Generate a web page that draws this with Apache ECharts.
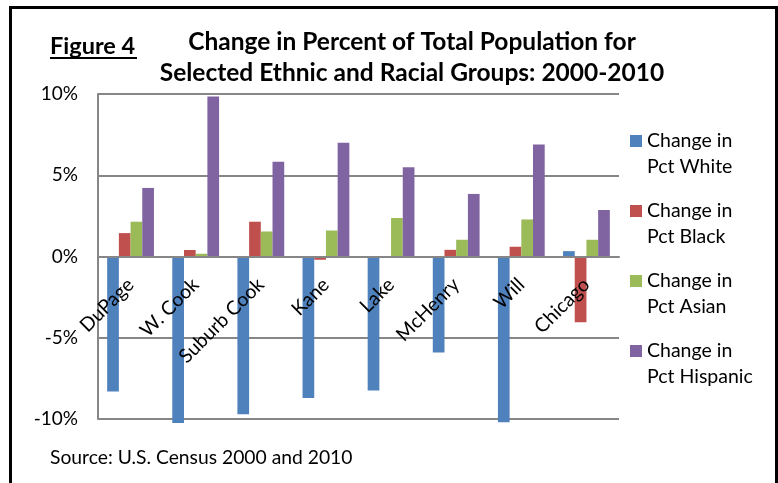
<!DOCTYPE html>
<html>
<head>
<meta charset="utf-8">
<script src="https://cdn.jsdelivr.net/npm/echarts@6/dist/echarts.min.js"></script>
<style>
html,body{margin:0;padding:0;background:#fff;}
#chart{width:778px;height:483px;}
</style>
</head>
<body>
<div id="chart"></div>
<script>
const categories = ['DuPage', 'W. Cook', 'Suburb Cook', 'Kane', 'Lake', 'McHenry', 'Will', 'Chicago'];
const pctWhite    = [-8.3, -10.25, -9.7, -8.7, -8.25, -5.9, -10.2, 0.33];
const pctBlack    = [1.44, 0.4, 2.14, -0.2, -0.05, 0.41, 0.6, -4.05];
const pctAsian    = [2.14, 0.17, 1.54, 1.6, 2.37, 1.03, 2.28, 1.03];
const pctHispanic = [4.22, 9.84, 5.83, 7.0, 5.49, 3.85, 6.9, 2.86];
const seriesNames = ['Change in\nPct White', 'Change in\nPct Black', 'Change in\nPct Asian', 'Change in\nPct Hispanic'];
const seriesColors = ['#4F81BD', '#C0504D', '#9BBB59', '#8064A2'];
const yTicks = { min: -10, max: 10, interval: 5 };

const FONT = 'Lato';
const chart = echarts.init(document.getElementById('chart'), null, { renderer: 'canvas' });
const values = [pctWhite, pctBlack, pctAsian, pctHispanic];

const gridTop = 94, gridBottom = 64, gridH = 483 - gridTop - gridBottom;
// distance from grid bottom (-10%) up to the 0% line
const zeroOffset = gridH * (0 - yTicks.min) / (yTicks.max - yTicks.min);

chart.setOption({
  animation: false,
  backgroundColor: '#ffffff',
  color: seriesColors,
  textStyle: { fontFamily: FONT },
  title: {
    text: 'Change in Percent of Total Population for\nSelected Ethnic and Racial Groups: 2000-2010',
    left: 412,
    top: 27,
    padding: 0,
    textAlign: 'center',
    textStyle: { fontFamily: FONT, fontSize: 24.5, fontWeight: 'bold', color: '#000', lineHeight: 31 }
  },
  grid: { left: 98, right: 159, top: gridTop, bottom: gridBottom, containLabel: false, outerBoundsMode: 'none' },
  legend: {
    orient: 'vertical',
    left: 630,
    top: 102,
    padding: 0,
    itemGap: -8,
    itemWidth: 12,
    itemHeight: 12,
    icon: 'rect',
    data: seriesNames,
    formatter: function (name) { return ' \n' + name; },
    textStyle: { fontFamily: FONT, fontSize: 19.5, color: '#000', lineHeight: 26 }
  },
  xAxis: {
    type: 'category',
    data: categories,
    z: 5,
    offset: -zeroOffset,
    axisLine: { onZero: false, lineStyle: { color: '#868686', width: 2 } },
    axisTick: { show: false },
    axisLabel: { rotate: 45, margin: 25, color: '#000', fontFamily: FONT, fontSize: 19.5, interval: 0 },
    splitLine: { show: false }
  },
  yAxis: {
    type: 'value',
    min: yTicks.min,
    max: yTicks.max,
    interval: yTicks.interval,
    axisLine: { show: true, lineStyle: { color: '#868686', width: 2 } },
    axisTick: { show: false },
    axisLabel: { formatter: '{value}%', color: '#000', fontFamily: FONT, fontSize: 19, margin: 20 },
    splitLine: { show: true, lineStyle: { color: '#868686', width: 2 } }
  },
  series: seriesNames.map((n, i) => ({
    name: n,
    type: 'bar',
    data: values[i],
    barWidth: 11.7,
    barGap: '0%',
    clip: false,
    itemStyle: { color: seriesColors[i] }
  })),
  graphic: [
    { type: 'rect', shape: { x: 10.5, y: 7.5, width: 766, height: 520 }, style: { fill: 'none', stroke: '#000', lineWidth: 3 }, z: 10 },
    { type: 'text', x: 50, y: 46, style: { text: 'Figure 4', fontFamily: FONT, fontSize: 23.5, fontWeight: 'bold', fill: '#000', verticalAlign: 'middle' }, z: 10 },
    { type: 'line', shape: { x1: 50, y1: 58, x2: 137, y2: 58 }, style: { stroke: '#000', lineWidth: 2 }, z: 10 },
    { type: 'text', x: 50, y: 458, style: { text: 'Source: U.S. Census 2000 and 2010', fontFamily: FONT, fontSize: 19.3, fill: '#000', verticalAlign: 'middle' }, z: 10 }
  ]
});
</script>
</body>
</html>
